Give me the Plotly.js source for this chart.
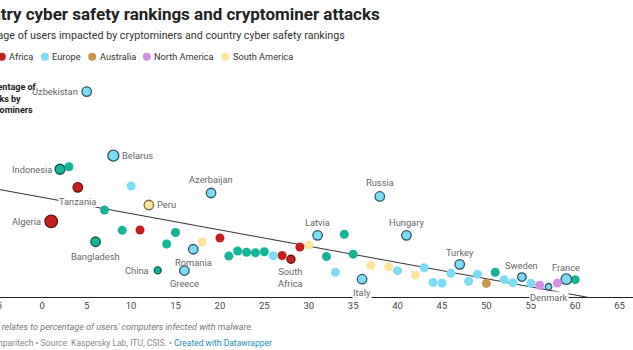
<!DOCTYPE html>
<html><head><meta charset="utf-8">
<script src="https://cdn.plot.ly/plotly-3.0.1.min.js"></script>
<style>
html,body{margin:0;padding:0;overflow:hidden;width:633px;height:350px;background:#fff}
#chart{position:absolute;left:-100px;top:0;width:774px;height:350px}
</style>
</head><body><div id="chart"></div>
<script>
// ---- data (x = cyber safety rank, y = % of users hit by cryptominers) ----
const ranks = [1,2,3,4,5,6,7,8,9,10,11,12,13,14,15,16,17,18,19,20,21,22,23,24,25,26,27,28,29,30,
               31,32,33,34,35,36,37,38,39,40,41,42,43,44,45,46,47,48,49,50,51,52,53,54,55,56,57,58,59,60];
const cryptominerPct = [5.23,8.83,9.00,7.58,14.20,3.82,6.01,9.77,4.61,7.67,4.63,6.36,1.84,3.66,4.46,1.83,3.30,3.80,7.19,4.08,
                        2.83,3.18,3.09,3.06,3.13,2.85,2.87,2.61,3.46,3.59,4.26,2.80,1.71,4.34,2.96,1.23,2.19,6.95,2.09,1.82,
                        4.26,1.52,2.02,1.00,0.97,1.64,2.26,1.09,1.58,0.95,1.71,1.20,0.99,1.38,0.95,0.81,0.71,0.97,1.23,1.20];
const regions = ["Africa","Asia","Asia","Africa","Europe","Asia","Asia","Europe","Asia","Europe",
                 "Africa","South America","Asia","Asia","Asia","Europe","Europe","South America","Europe","Africa",
                 "Asia","Asia","Asia","Asia","Asia","Europe","Africa","Africa","Africa","South America",
                 "Europe","Asia","Europe","Asia","Asia","Europe","South America","Europe","South America","Europe",
                 "Europe","South America","Europe","Europe","Europe","Europe","Europe","Europe","Europe","Australia",
                 "Asia","Europe","Europe","Europe","Europe","North America","Europe","North America","Europe","Asia"];
const countryLabels = ["Algeria","Indonesia","","Tanzania","Uzbekistan","Bangladesh","","Belarus","","",
                       "","Peru","China","","","Greece","Romania","","Azerbaijan","",
                       "","","","","","","","South Africa","","",
                       "Latvia","","","","","Italy","","Russia","","",
                       "Hungary","","","","","","Turkey","","","",
                       "","","","Sweden","","","Denmark","","France",""];
const legendRegions = ["Asia","Africa","Europe","Australia","North America","South America"];
const xTicks = [-5,0,5,10,15,20,25,30,35,40,45,50,55,60,65];

// ---- styles ----
const regionColors = {"Asia":"#14b496","Africa":"#c71e1d","Europe":"#7ddcf5","Australia":"#c8964a","North America":"#d28fe3","South America":"#fde49c"};
const regionOutline = {"Asia":"#0a5a4a","Africa":"#6a0e0e","Europe":"#2b5563","Australia":"#6a4d20","North America":"#6a3f75","South America":"#7a6a3a"};
const sizeOverride = {"Algeria":12.5,"Belarus":11,"Denmark":6.5,"China":7,"South Africa":8,"Sweden":8.5,"France":10.5,"Indonesia":10};
const labelPlace = {
  "Algeria":["left"],"Indonesia":["left"],"Tanzania":["bottom",13.7],"Uzbekistan":["left"],"Bangladesh":["bottom",14.3],
  "Belarus":["right"],"Peru":["right"],"China":["left"],"Greece":["bottom",12.5],"Romania":["bottom",13.7],
  "Azerbaijan":["top",13],"South Africa":["bottom2",6],"Latvia":["top",13.3],"Italy":["bottom",13],"Russia":["top",13.5],
  "Hungary":["top",13.3],"Turkey":["top",12.3],"Sweden":["top",12],"Denmark":["bottom",10.5],"France":["top",11.5]
};
const haloLabels = ["Tanzania","Italy","Denmark"];

// ---- geometry of the (page-cropped) canvas ----
const OFF=100, W=774, H=350, ML=89, MR=10, MT=80, MB=53;
const plotW=W-ML-MR, plotH=H-MT-MB;
const PX = xp => (xp + OFF - ML)/plotW;
const PY = yp => (H - MB - yp)/plotH;
const FONT = "Roboto, 'Noto Sans', sans-serif";

// ---- regression line from the data ----
const n = ranks.length;
const mx = ranks.reduce((a,b)=>a+b,0)/n, my = cryptominerPct.reduce((a,b)=>a+b,0)/n;
let sxy=0, sxx=0;
for (let i=0;i<n;i++){ sxy += (ranks[i]-mx)*(cryptominerPct[i]-my); sxx += (ranks[i]-mx)**2; }
const slope = sxy/sxx, intercept = my - slope*mx;
const xRange = [-6, 70];

const traces = [{
  type:'scatter', mode:'lines', x:xRange, y:xRange.map(v=>intercept+slope*v),
  line:{color:'#333', width:1}, hoverinfo:'skip', showlegend:false
}];
legendRegions.forEach(reg=>{
  const idx = [];
  regions.forEach((r,i)=>{ if(r===reg) idx.push(i); });
  traces.push({
    type:'scatter', mode:'markers', showlegend:false, hoverinfo:'skip',
    x: idx.map(i=>ranks[i]), y: idx.map(i=>cryptominerPct[i]),
    marker:{
      color: regionColors[reg], opacity:1,
      size: idx.map(i=> sizeOverride[countryLabels[i]] || (countryLabels[i]?9.5:9)),
      line:{color: regionOutline[reg], width: idx.map(i=>countryLabels[i]?1.3:0)}
    }
  });
});

const annotations = [];
const shapes = [];
// titles
annotations.push({xref:'paper',yref:'paper',x:PX(-41),y:PY(14),xanchor:'left',yanchor:'middle',showarrow:false,
  text:"Country cyber safety rankings and cryptominer attacks",font:{family:FONT,size:17,weight:700,color:'#222'}});
annotations.push({xref:'paper',yref:'paper',x:PX(-41),y:PY(35.5),xanchor:'left',yanchor:'middle',showarrow:false,
  text:"Percentage of users impacted by cryptominers and country cyber safety rankings",font:{family:FONT,size:10.7,color:'#333'}});
// legend
const legendTextX = [-29, 8.3, 51.3, 98.7, 153.3, 231.7];
legendRegions.forEach((reg,k)=>{
  const cx = legendTextX[k]-6.5, cy = 56.7, r = 4;
  shapes.push({type:'circle',xref:'paper',yref:'paper',x0:PX(cx-r),x1:PX(cx+r),y0:PY(cy+r),y1:PY(cy-r),
    fillcolor:regionColors[reg],line:{width:0}});
  annotations.push({xref:'paper',yref:'paper',x:PX(legendTextX[k]),y:PY(cy),xanchor:'left',yanchor:'middle',showarrow:false,
    borderpad:0,text:reg,font:{family:FONT,size:9.2,color:'#333'}});
});
// y axis title
annotations.push({xref:'paper',yref:'paper',x:PX(-22),y:PY(98),xanchor:'left',yanchor:'middle',align:'left',showarrow:false,
  borderpad:0,text:"Percentage of<br>attacks by<br>cryptominers",font:{family:FONT,size:9,weight:700,color:'#222'}});
// footer
annotations.push({xref:'paper',yref:'paper',x:PX(-41),y:PY(327),xanchor:'left',yanchor:'middle',showarrow:false,borderpad:0,
  text:"<i>Note: This relates to percentage of users' computers infected with malware.</i>",font:{family:FONT,size:9,color:'#777'}});
annotations.push({xref:'paper',yref:'paper',x:PX(-41),y:PY(343),xanchor:'left',yanchor:'middle',showarrow:false,borderpad:0,
  text:"Chart: Comparitech • Source: Kaspersky Lab, ITU, CSIS. • <span style='color:#1d8fae'>Created with Datawrapper</span>",
  font:{family:FONT,size:8.5,color:'#888'}});
// point labels
countryLabels.forEach((lab,i)=>{
  if(!lab) return;
  const p = labelPlace[lab] || ["top",13];
  const a = {xref:'x',yref:'y',x:ranks[i],y:cryptominerPct[i],showarrow:false,borderpad:0,
    font:{family:FONT,size:9.3,color:'#666'},text:lab};
  if (haloLabels.includes(lab)) { a.bgcolor='#fff'; }
  if (p[0]==='left'){ a.xanchor='right'; a.yanchor='middle'; a.xshift = -(lab==='Algeria'?9:7.5); }
  else if (p[0]==='right'){ a.xanchor='left'; a.yanchor='middle'; a.xshift = 7.5; }
  else if (p[0]==='top'){ a.xanchor='center'; a.yanchor='middle'; a.yshift = p[1]; }
  else if (p[0]==='bottom'){ a.xanchor='center'; a.yanchor='middle'; a.yshift = -p[1]; }
  else if (p[0]==='bottom2'){ a.xanchor='center'; a.yanchor='top'; a.yshift = -p[1]; a.text = lab.replace(' ','<br>'); }
  annotations.push(a);
});

const layout = {
  width:W, height:H, margin:{l:ML,r:MR,t:MT,b:MB,pad:0},
  paper_bgcolor:'#fff', plot_bgcolor:'#fff', showlegend:false,
  xaxis:{range:xRange, tickvals:xTicks, ticktext:xTicks.map(String), showgrid:false, zeroline:false,
    showline:true, linecolor:'#222', linewidth:1, ticks:'', fixedrange:true,
    tickfont:{family:FONT,size:9.5,color:'#444'}},
  yaxis:{range:[0,15], showgrid:false, zeroline:false, showline:false, showticklabels:false, ticks:'', fixedrange:true},
  annotations:annotations, shapes:shapes
};
Plotly.newPlot('chart', traces, layout, {staticPlot:true, displayModeBar:false});
</script></body></html>
